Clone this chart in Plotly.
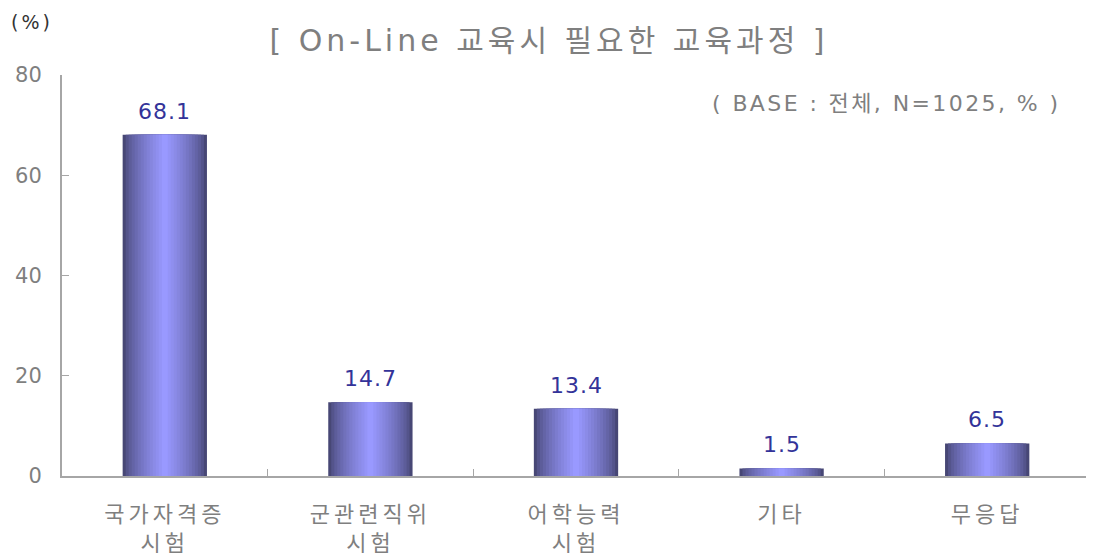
import numpy as np
import plotly.graph_objects as go

# ── Data ──────────────────────────────────────────────────────────────────────
CATEGORIES = ["국가자격증<br>시험", "군관련직위<br>시험", "어학능력<br>시험", "기타", "무응답"]
VALUES = [68.1, 14.7, 13.4, 1.5, 6.5]
Y_TICKS = [0, 20, 40, 60, 80]

# ── Style ─────────────────────────────────────────────────────────────────────
FONT = "DejaVu Sans, Noto Sans CJK KR, sans-serif"
GREY = "#7F7F7F"
AXIS = "#A6A6A6"
LABEL = "#333399"
EDGE = np.array([0x47, 0x47, 0x75])
CENTER = np.array([0x99, 0x99, 0xFF])
BAR_WIDTH = 0.41
N_LAYERS = 14


def spaced(text: str, px: float) -> str:
    """Wrap each line in a span with letter spacing (the source uses a wide Gulim-like face)."""
    return "<br>".join(
        f'<span style="letter-spacing:{px}px">{line}</span>' for line in text.split("<br>")
    )


fig = go.Figure()

# Horizontal gradient faked by overlaying progressively narrower, lighter bars
for i in range(N_LAYERS):
    t = i / (N_LAYERS - 1)
    c = EDGE + (CENTER - EDGE) * (t ** 0.7)
    colour = "rgb({},{},{})".format(*[int(v) for v in c])
    w = BAR_WIDTH * (1 - i / N_LAYERS)
    fig.add_trace(go.Bar(
        x=CATEGORIES,
        y=VALUES,
        width=w,
        marker=dict(color=colour, line=dict(width=0)),
        hoverinfo="skip",
        showlegend=False,
    ))

# value labels above the bars
for cat, v in zip(CATEGORIES, VALUES):
    fig.add_annotation(
        x=cat, y=v, text=spaced(f"{v:.1f}", 1),
        xanchor="center", yanchor="bottom", yshift=9,
        showarrow=False, font=dict(family=FONT, size=22, color=LABEL),
    )

# the page body adds an 8px offset, so margins are shifted accordingly
fig.update_layout(
    barmode="overlay",
    width=1094,
    height=556,
    plot_bgcolor="white",
    paper_bgcolor="white",
    margin=dict(l=54, r=12, t=67, b=88),
    font=dict(family=FONT, color=GREY),
    title=dict(
        text=spaced("[ On-Line 교육시 필요한 교육과정 ]", 4),
        x=0.4945, xanchor="center",
        y=0.942, yanchor="middle",
        font=dict(family=FONT, size=30, color=GREY),
    ),
)

fig.add_annotation(
    text=spaced("(%)", 3), xref="paper", yref="paper",
    x=-0.052, y=1.132, xanchor="left", yanchor="middle",
    showarrow=False, font=dict(family=FONT, size=19, color="#333333"),
)
fig.add_annotation(
    text=spaced("( BASE : 전체, N=1025, % )", 2.4), xref="paper", yref="paper",
    x=0.973, y=0.93, xanchor="right", yanchor="middle",
    showarrow=False, font=dict(family=FONT, size=22, color=GREY),
)

fig.update_xaxes(
    tickmode="array",
    tickvals=CATEGORIES,
    ticktext=[spaced(c, 4) for c in CATEGORIES],
    showline=True, linecolor=AXIS, linewidth=2,
    ticks="inside", tickson="boundaries", ticklen=7, tickcolor=AXIS,
    tickfont=dict(family=FONT, size=22, color=GREY),
    ticklabelstandoff=18,
    showgrid=False, automargin=False,
)
fig.update_yaxes(
    range=[0, 80], tickvals=Y_TICKS,
    showline=True, linecolor=AXIS, linewidth=2,
    ticks="inside", ticklen=7, tickcolor=AXIS,
    tickfont=dict(family=FONT, size=21, color=GREY),
    ticklabelstandoff=14,
    showgrid=False, zeroline=False, automargin=False,
)

fig.write_html("out.html")
